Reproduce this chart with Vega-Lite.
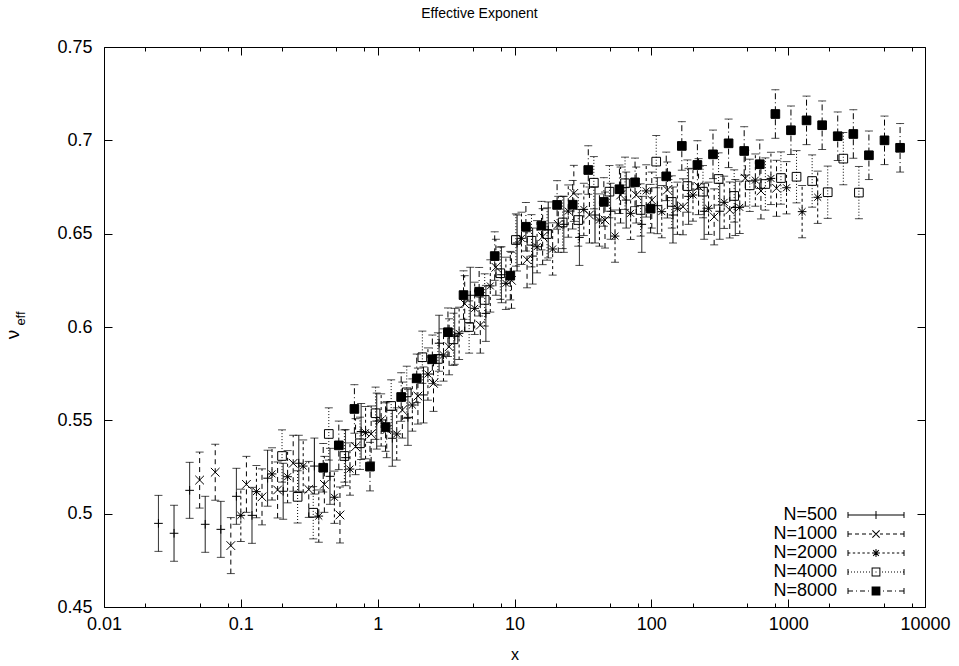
{
"$schema": "https://vega.github.io/schema/vega-lite/v6.json",
"width": 821, "height": 560,
"autosize": "none",
"padding": {"left": 104, "top": 47, "right": 34, "bottom": 59},
"background": "white",
"title": {"text": "Effective Exponent", "font": "Liberation Sans", "fontSize": 14, "fontWeight": "normal", "color": "black", "anchor": "middle", "frame": "group", "dx": -35, "offset": 3, "baseline": "bottom"},
"config": {
  "view": {"stroke": "black", "strokeWidth": 1},
  "font": "Liberation Sans",
  "axis": {"domain": false, "grid": false, "tickColor": "black", "tickWidth": 1, "labelColor": "black", "titleColor": "black", "labelFont": "Liberation Sans", "labelFontSize": 18, "titleFont": "Liberation Sans", "titleFontWeight": "normal"},
  "legend": {"labelFont": "Liberation Sans"}
},
"datasets": {"d": [
{"s":"N=500","x":0.025,"v":0.4948,"lo":0.4798,"hi":0.5098},
{"s":"N=500","x":0.0325,"v":0.4895,"lo":0.4745,"hi":0.5045},
{"s":"N=500","x":0.04225,"v":0.5125,"lo":0.4975,"hi":0.5275},
{"s":"N=500","x":0.054925,"v":0.4943,"lo":0.4793,"hi":0.5093},
{"s":"N=500","x":0.0714,"v":0.4916,"lo":0.4766,"hi":0.5066},
{"s":"N=500","x":0.09282,"v":0.5093,"lo":0.4943,"hi":0.5243},
{"s":"N=500","x":0.12067,"v":0.4991,"lo":0.4841,"hi":0.5141},
{"s":"N=500","x":0.15687,"v":0.519,"lo":0.504,"hi":0.534},
{"s":"N=500","x":0.20393,"v":0.512,"lo":0.497,"hi":0.527},
{"s":"N=500","x":0.26511,"v":0.527,"lo":0.512,"hi":0.542},
{"s":"N=500","x":0.34465,"v":0.5255,"lo":0.5105,"hi":0.5405},
{"s":"N=500","x":0.44804,"v":0.52,"lo":0.505,"hi":0.535},
{"s":"N=500","x":0.58245,"v":0.53,"lo":0.515,"hi":0.545},
{"s":"N=500","x":0.75719,"v":0.544,"lo":0.529,"hi":0.559},
{"s":"N=500","x":0.98434,"v":0.5496,"lo":0.5346,"hi":0.5646},
{"s":"N=500","x":1.27965,"v":0.5404,"lo":0.5254,"hi":0.5554},
{"s":"N=500","x":1.66354,"v":0.5516,"lo":0.5366,"hi":0.5666},
{"s":"N=500","x":2.1626,"v":0.5636,"lo":0.5486,"hi":0.5786},
{"s":"N=500","x":2.81139,"v":0.5913,"lo":0.5763,"hi":0.6063},
{"s":"N=500","x":3.6548,"v":0.595,"lo":0.58,"hi":0.61},
{"s":"N=500","x":4.75124,"v":0.617,"lo":0.602,"hi":0.632},
{"s":"N=500","x":6.17661,"v":0.6073,"lo":0.5923,"hi":0.6223},
{"s":"N=500","x":8.0296,"v":0.628,"lo":0.613,"hi":0.643},
{"s":"N=500","x":10.4385,"v":0.645,"lo":0.63,"hi":0.66},
{"s":"N=500","x":13.57,"v":0.638,"lo":0.623,"hi":0.653},
{"s":"N=500","x":17.641,"v":0.652,"lo":0.637,"hi":0.667},
{"s":"N=500","x":22.933,"v":0.655,"lo":0.64,"hi":0.67},
{"s":"N=500","x":29.813,"v":0.648,"lo":0.633,"hi":0.663},
{"s":"N=500","x":38.757,"v":0.66,"lo":0.645,"hi":0.675},
{"s":"N=500","x":50.385,"v":0.662,"lo":0.647,"hi":0.677},
{"s":"N=500","x":65.5,"v":0.668,"lo":0.653,"hi":0.683},
{"s":"N=500","x":85.15,"v":0.655,"lo":0.64,"hi":0.67},
{"s":"N=500","x":110.69,"v":0.665,"lo":0.65,"hi":0.68},
{"s":"N=500","x":143.9,"v":0.66,"lo":0.645,"hi":0.675},
{"s":"N=500","x":187.07,"v":0.67,"lo":0.655,"hi":0.685},
{"s":"N=500","x":243.2,"v":0.662,"lo":0.647,"hi":0.677},
{"s":"N=500","x":316.16,"v":0.662,"lo":0.647,"hi":0.677},
{"s":"N=500","x":411.0,"v":0.664,"lo":0.649,"hi":0.679},
{"s":"N=1000","x":0.05,"v":0.518,"lo":0.503,"hi":0.533},
{"s":"N=1000","x":0.065,"v":0.5222,"lo":0.5072,"hi":0.5372},
{"s":"N=1000","x":0.0845,"v":0.4829,"lo":0.4679,"hi":0.4979},
{"s":"N=1000","x":0.10985,"v":0.5157,"lo":0.5007,"hi":0.5307},
{"s":"N=1000","x":0.1428,"v":0.509,"lo":0.494,"hi":0.524},
{"s":"N=1000","x":0.18565,"v":0.5127,"lo":0.4977,"hi":0.5277},
{"s":"N=1000","x":0.24134,"v":0.527,"lo":0.512,"hi":0.542},
{"s":"N=1000","x":0.31374,"v":0.513,"lo":0.498,"hi":0.528},
{"s":"N=1000","x":0.40787,"v":0.5157,"lo":0.5007,"hi":0.5307},
{"s":"N=1000","x":0.53022,"v":0.4993,"lo":0.4843,"hi":0.5143},
{"s":"N=1000","x":0.68929,"v":0.5359,"lo":0.5209,"hi":0.5509},
{"s":"N=1000","x":0.89608,"v":0.5427,"lo":0.5277,"hi":0.5577},
{"s":"N=1000","x":1.1649,"v":0.545,"lo":0.53,"hi":0.56},
{"s":"N=1000","x":1.5144,"v":0.5555,"lo":0.5405,"hi":0.5705},
{"s":"N=1000","x":1.9687,"v":0.563,"lo":0.548,"hi":0.578},
{"s":"N=1000","x":2.5593,"v":0.5698,"lo":0.5548,"hi":0.5848},
{"s":"N=1000","x":3.3271,"v":0.5894,"lo":0.5744,"hi":0.6044},
{"s":"N=1000","x":4.3252,"v":0.6125,"lo":0.5975,"hi":0.6275},
{"s":"N=1000","x":5.6228,"v":0.601,"lo":0.586,"hi":0.616},
{"s":"N=1000","x":7.3096,"v":0.632,"lo":0.617,"hi":0.647},
{"s":"N=1000","x":9.5025,"v":0.625,"lo":0.61,"hi":0.64},
{"s":"N=1000","x":12.353,"v":0.636,"lo":0.621,"hi":0.651},
{"s":"N=1000","x":16.059,"v":0.6484,"lo":0.6334,"hi":0.6634},
{"s":"N=1000","x":20.877,"v":0.655,"lo":0.64,"hi":0.67},
{"s":"N=1000","x":27.14,"v":0.6716,"lo":0.6566,"hi":0.6866},
{"s":"N=1000","x":35.282,"v":0.66,"lo":0.645,"hi":0.675},
{"s":"N=1000","x":45.867,"v":0.6573,"lo":0.6423,"hi":0.6723},
{"s":"N=1000","x":59.627,"v":0.6707,"lo":0.6557,"hi":0.6857},
{"s":"N=1000","x":77.515,"v":0.6707,"lo":0.6557,"hi":0.6857},
{"s":"N=1000","x":100.77,"v":0.668,"lo":0.653,"hi":0.683},
{"s":"N=1000","x":131.0,"v":0.6734,"lo":0.6584,"hi":0.6884},
{"s":"N=1000","x":170.3,"v":0.6644,"lo":0.6494,"hi":0.6794},
{"s":"N=1000","x":221.39,"v":0.6752,"lo":0.6602,"hi":0.6902},
{"s":"N=1000","x":287.81,"v":0.659,"lo":0.644,"hi":0.674},
{"s":"N=1000","x":374.15,"v":0.6627,"lo":0.6477,"hi":0.6777},
{"s":"N=1000","x":486.39,"v":0.6797,"lo":0.6647,"hi":0.6947},
{"s":"N=1000","x":632.31,"v":0.6729,"lo":0.6579,"hi":0.6879},
{"s":"N=1000","x":822.0,"v":0.6743,"lo":0.6593,"hi":0.6893},
{"s":"N=2000","x":0.1,"v":0.4991,"lo":0.4851,"hi":0.5131},
{"s":"N=2000","x":0.13,"v":0.5118,"lo":0.4978,"hi":0.5258},
{"s":"N=2000","x":0.169,"v":0.5213,"lo":0.5073,"hi":0.5353},
{"s":"N=2000","x":0.2197,"v":0.5198,"lo":0.5058,"hi":0.5338},
{"s":"N=2000","x":0.28561,"v":0.5255,"lo":0.5115,"hi":0.5395},
{"s":"N=2000","x":0.37129,"v":0.4987,"lo":0.4847,"hi":0.5127},
{"s":"N=2000","x":0.48268,"v":0.5088,"lo":0.4948,"hi":0.5228},
{"s":"N=2000","x":0.62749,"v":0.5239,"lo":0.5099,"hi":0.5379},
{"s":"N=2000","x":0.81573,"v":0.5434,"lo":0.5294,"hi":0.5574},
{"s":"N=2000","x":1.0604,"v":0.5502,"lo":0.5362,"hi":0.5642},
{"s":"N=2000","x":1.3786,"v":0.5427,"lo":0.5287,"hi":0.5567},
{"s":"N=2000","x":1.7922,"v":0.5582,"lo":0.5442,"hi":0.5722},
{"s":"N=2000","x":2.3298,"v":0.5748,"lo":0.5608,"hi":0.5888},
{"s":"N=2000","x":3.0288,"v":0.585,"lo":0.571,"hi":0.599},
{"s":"N=2000","x":3.9374,"v":0.5966,"lo":0.5826,"hi":0.6106},
{"s":"N=2000","x":5.1186,"v":0.61,"lo":0.596,"hi":0.624},
{"s":"N=2000","x":6.6542,"v":0.622,"lo":0.608,"hi":0.636},
{"s":"N=2000","x":8.6504,"v":0.6234,"lo":0.6094,"hi":0.6374},
{"s":"N=2000","x":11.246,"v":0.6475,"lo":0.6335,"hi":0.6615},
{"s":"N=2000","x":14.619,"v":0.643,"lo":0.629,"hi":0.657},
{"s":"N=2000","x":19.005,"v":0.6418,"lo":0.6278,"hi":0.6558},
{"s":"N=2000","x":24.706,"v":0.6621,"lo":0.6481,"hi":0.6761},
{"s":"N=2000","x":32.118,"v":0.663,"lo":0.649,"hi":0.677},
{"s":"N=2000","x":41.754,"v":0.6573,"lo":0.6433,"hi":0.6713},
{"s":"N=2000","x":54.28,"v":0.6487,"lo":0.6347,"hi":0.6627},
{"s":"N=2000","x":70.564,"v":0.6609,"lo":0.6469,"hi":0.6749},
{"s":"N=2000","x":91.733,"v":0.6729,"lo":0.6589,"hi":0.6869},
{"s":"N=2000","x":119.25,"v":0.6618,"lo":0.6478,"hi":0.6758},
{"s":"N=2000","x":155.03,"v":0.6636,"lo":0.6496,"hi":0.6776},
{"s":"N=2000","x":201.54,"v":0.6707,"lo":0.6567,"hi":0.6847},
{"s":"N=2000","x":262.0,"v":0.6636,"lo":0.6496,"hi":0.6776},
{"s":"N=2000","x":340.6,"v":0.6668,"lo":0.6528,"hi":0.6808},
{"s":"N=2000","x":442.78,"v":0.6641,"lo":0.6501,"hi":0.6781},
{"s":"N=2000","x":575.61,"v":0.6787,"lo":0.6647,"hi":0.6927},
{"s":"N=2000","x":748.3,"v":0.6796,"lo":0.6656,"hi":0.6936},
{"s":"N=2000","x":972.79,"v":0.6746,"lo":0.6606,"hi":0.6886},
{"s":"N=2000","x":1264.6,"v":0.6618,"lo":0.6478,"hi":0.6758},
{"s":"N=2000","x":1644.0,"v":0.6695,"lo":0.6555,"hi":0.6835},
{"s":"N=4000","x":0.2,"v":0.5309,"lo":0.5169,"hi":0.5449},
{"s":"N=4000","x":0.26,"v":0.509,"lo":0.495,"hi":0.523},
{"s":"N=4000","x":0.338,"v":0.5005,"lo":0.4865,"hi":0.5145},
{"s":"N=4000","x":0.4394,"v":0.5427,"lo":0.5287,"hi":0.5567},
{"s":"N=4000","x":0.57122,"v":0.5309,"lo":0.5169,"hi":0.5449},
{"s":"N=4000","x":0.74259,"v":0.5377,"lo":0.5237,"hi":0.5517},
{"s":"N=4000","x":0.96536,"v":0.5538,"lo":0.5398,"hi":0.5678},
{"s":"N=4000","x":1.255,"v":0.5577,"lo":0.5437,"hi":0.5717},
{"s":"N=4000","x":1.6315,"v":0.565,"lo":0.551,"hi":0.579},
{"s":"N=4000","x":2.1209,"v":0.5838,"lo":0.5698,"hi":0.5978},
{"s":"N=4000","x":2.7572,"v":0.5829,"lo":0.5689,"hi":0.5969},
{"s":"N=4000","x":3.5843,"v":0.5934,"lo":0.5794,"hi":0.6074},
{"s":"N=4000","x":4.6596,"v":0.6,"lo":0.586,"hi":0.614},
{"s":"N=4000","x":6.0575,"v":0.6145,"lo":0.6005,"hi":0.6285},
{"s":"N=4000","x":7.8748,"v":0.6288,"lo":0.6148,"hi":0.6428},
{"s":"N=4000","x":10.237,"v":0.6466,"lo":0.6326,"hi":0.6606},
{"s":"N=4000","x":13.308,"v":0.6462,"lo":0.6322,"hi":0.6602},
{"s":"N=4000","x":17.301,"v":0.6498,"lo":0.6358,"hi":0.6638},
{"s":"N=4000","x":22.491,"v":0.656,"lo":0.642,"hi":0.67},
{"s":"N=4000","x":29.238,"v":0.6573,"lo":0.6433,"hi":0.6713},
{"s":"N=4000","x":38.01,"v":0.6773,"lo":0.6633,"hi":0.6913},
{"s":"N=4000","x":49.413,"v":0.6725,"lo":0.6585,"hi":0.6865},
{"s":"N=4000","x":64.237,"v":0.677,"lo":0.663,"hi":0.691},
{"s":"N=4000","x":83.508,"v":0.6627,"lo":0.6487,"hi":0.6767},
{"s":"N=4000","x":108.56,"v":0.6886,"lo":0.6746,"hi":0.7026},
{"s":"N=4000","x":141.13,"v":0.667,"lo":0.653,"hi":0.681},
{"s":"N=4000","x":183.47,"v":0.6755,"lo":0.6615,"hi":0.6895},
{"s":"N=4000","x":238.51,"v":0.6725,"lo":0.6585,"hi":0.6865},
{"s":"N=4000","x":310.06,"v":0.6793,"lo":0.6653,"hi":0.6933},
{"s":"N=4000","x":403.08,"v":0.6702,"lo":0.6562,"hi":0.6842},
{"s":"N=4000","x":524.0,"v":0.6759,"lo":0.6619,"hi":0.6899},
{"s":"N=4000","x":681.2,"v":0.6766,"lo":0.6626,"hi":0.6906},
{"s":"N=4000","x":885.56,"v":0.6798,"lo":0.6658,"hi":0.6938},
{"s":"N=4000","x":1151.2,"v":0.6805,"lo":0.6665,"hi":0.6945},
{"s":"N=4000","x":1496.6,"v":0.6782,"lo":0.6642,"hi":0.6922},
{"s":"N=4000","x":1945.6,"v":0.6722,"lo":0.6582,"hi":0.6862},
{"s":"N=4000","x":2529.2,"v":0.6902,"lo":0.6762,"hi":0.7042},
{"s":"N=4000","x":3288.0,"v":0.672,"lo":0.658,"hi":0.686},
{"s":"N=8000","x":0.4,"v":0.5246,"lo":0.5116,"hi":0.5376},
{"s":"N=8000","x":0.52,"v":0.5366,"lo":0.5236,"hi":0.5496},
{"s":"N=8000","x":0.676,"v":0.5561,"lo":0.5431,"hi":0.5691},
{"s":"N=8000","x":0.8788,"v":0.5252,"lo":0.5122,"hi":0.5382},
{"s":"N=8000","x":1.1424,"v":0.5464,"lo":0.5334,"hi":0.5594},
{"s":"N=8000","x":1.4852,"v":0.5625,"lo":0.5495,"hi":0.5755},
{"s":"N=8000","x":1.9307,"v":0.5725,"lo":0.5595,"hi":0.5855},
{"s":"N=8000","x":2.5099,"v":0.5827,"lo":0.5697,"hi":0.5957},
{"s":"N=8000","x":3.2629,"v":0.5972,"lo":0.5842,"hi":0.6102},
{"s":"N=8000","x":4.2418,"v":0.6171,"lo":0.6041,"hi":0.6301},
{"s":"N=8000","x":5.5143,"v":0.6189,"lo":0.6059,"hi":0.6319},
{"s":"N=8000","x":7.1686,"v":0.638,"lo":0.625,"hi":0.651},
{"s":"N=8000","x":9.3192,"v":0.6275,"lo":0.6145,"hi":0.6405},
{"s":"N=8000","x":12.115,"v":0.6537,"lo":0.6407,"hi":0.6667},
{"s":"N=8000","x":15.75,"v":0.6543,"lo":0.6413,"hi":0.6673},
{"s":"N=8000","x":20.474,"v":0.6654,"lo":0.6524,"hi":0.6784},
{"s":"N=8000","x":26.617,"v":0.6655,"lo":0.6525,"hi":0.6785},
{"s":"N=8000","x":34.602,"v":0.6841,"lo":0.6711,"hi":0.6971},
{"s":"N=8000","x":44.982,"v":0.667,"lo":0.654,"hi":0.68},
{"s":"N=8000","x":58.477,"v":0.6738,"lo":0.6608,"hi":0.6868},
{"s":"N=8000","x":76.02,"v":0.6775,"lo":0.6645,"hi":0.6905},
{"s":"N=8000","x":98.826,"v":0.6634,"lo":0.6504,"hi":0.6764},
{"s":"N=8000","x":128.47,"v":0.6807,"lo":0.6677,"hi":0.6937},
{"s":"N=8000","x":167.02,"v":0.697,"lo":0.684,"hi":0.71},
{"s":"N=8000","x":217.12,"v":0.6868,"lo":0.6738,"hi":0.6998},
{"s":"N=8000","x":282.26,"v":0.6925,"lo":0.6795,"hi":0.7055},
{"s":"N=8000","x":366.93,"v":0.6984,"lo":0.6854,"hi":0.7114},
{"s":"N=8000","x":477.01,"v":0.6943,"lo":0.6813,"hi":0.7073},
{"s":"N=8000","x":620.12,"v":0.6872,"lo":0.6742,"hi":0.7002},
{"s":"N=8000","x":806.15,"v":0.7141,"lo":0.7011,"hi":0.7271},
{"s":"N=8000","x":1048.0,"v":0.7054,"lo":0.6924,"hi":0.7184},
{"s":"N=8000","x":1362.4,"v":0.7107,"lo":0.6977,"hi":0.7237},
{"s":"N=8000","x":1771.1,"v":0.7081,"lo":0.6951,"hi":0.7211},
{"s":"N=8000","x":2302.5,"v":0.7022,"lo":0.6892,"hi":0.7152},
{"s":"N=8000","x":2993.2,"v":0.7034,"lo":0.6904,"hi":0.7164},
{"s":"N=8000","x":3891.1,"v":0.692,"lo":0.679,"hi":0.705},
{"s":"N=8000","x":5058.5,"v":0.7,"lo":0.687,"hi":0.713},
{"s":"N=8000","x":6576.0,"v":0.696,"lo":0.683,"hi":0.709}
]},
"data": {"name": "d"},
"resolve": {"scale": {"shape": "independent", "fill": "independent", "strokeDash": "independent"}, "axis": {"x": "independent", "y": "independent"}},
"layer": [
{
 "mark": {"type": "rule", "strokeWidth": 1, "color": "black"},
 "encoding": {
  "x": {"field": "x", "type": "quantitative", "scale": {"type": "log", "domain": [0.01, 10000], "nice": false},
        "axis": {"orient": "bottom", "values": [0.01, 0.1, 1, 10, 100, 1000, 10000], "format": "~g", "ticks": false, "labelPadding": 8, "labelFlush": false, "labelOverlap": false, "title": "x", "titleFontSize": 16, "titleY": 52, "titleBaseline": "alphabetic"}},
  "y": {"field": "lo", "type": "quantitative", "scale": {"domain": [0.45, 0.75], "nice": false, "zero": false},
        "axis": {"orient": "left", "values": [0.45, 0.5, 0.55, 0.6, 0.65, 0.7, 0.75], "format": "~g", "ticks": false, "labelPadding": 12, "labelFlush": false, "labelOverlap": false, "title": "ν", "titleFontSize": 19, "titleAngle": -90, "titleX": -86, "titleY": 287, "titleAlign": "center", "titleBaseline": "alphabetic",
                 "encode": {"title": {"update": {"angle": {"value": -90}}}}}},
  "y2": {"field": "hi"},
  "strokeDash": {"field": "s", "type": "nominal", "scale": {"domain": ["N=500", "N=1000", "N=2000", "N=4000", "N=8000"], "range": [[1, 0], [5, 4], [3, 3], [1, 2], [6, 3, 1, 3]]}, "legend": null}
 }
},
{
 "mark": {"type": "tick", "orient": "horizontal", "size": 8, "thickness": 1, "color": "black"},
 "encoding": {
  "x": {"field": "x", "type": "quantitative", "scale": {"type": "log", "domain": [0.01, 10000], "nice": false},
        "axis": {"orient": "bottom", "values": [0.01, 0.1, 1, 10, 100, 1000, 10000], "labels": false, "tickSize": -8, "title": null}},
  "y": {"field": "lo", "type": "quantitative", "scale": {"domain": [0.45, 0.75], "nice": false, "zero": false},
        "axis": {"orient": "right", "values": [0.45, 0.5, 0.55, 0.6, 0.65, 0.7, 0.75], "labels": false, "tickSize": -8, "title": null}}
 }
},
{
 "mark": {"type": "tick", "orient": "horizontal", "size": 8, "thickness": 1, "color": "black"},
 "encoding": {
  "x": {"field": "x", "type": "quantitative", "scale": {"type": "log", "domain": [0.01, 10000], "nice": false},
        "axis": {"orient": "top", "values": [0.01, 0.1, 1, 10, 100, 1000, 10000], "labels": false, "tickSize": -8, "title": null}},
  "y": {"field": "hi", "type": "quantitative", "scale": {"domain": [0.45, 0.75], "nice": false, "zero": false},
        "axis": {"orient": "left", "values": [0.45, 0.5, 0.55, 0.6, 0.65, 0.7, 0.75], "labels": false, "tickSize": -8, "title": "eff", "titleFontSize": 13, "titleAngle": -90, "titleX": -80, "titleY": 271, "titleAlign": "center", "titleBaseline": "alphabetic",
                 "encode": {"title": {"update": {"angle": {"value": -90}}}}}}
 }
},
{
 "mark": {"type": "point", "stroke": "black", "strokeWidth": 1, "opacity": 1, "size": 75},
 "encoding": {
  "x": {"field": "x", "type": "quantitative", "scale": {"type": "log", "domain": [0.01, 10000], "nice": false},
        "axis": {"orient": "top", "values": [0.02, 0.05, 0.08, 0.2, 0.5, 0.8, 2, 5, 8, 20, 50, 80, 200, 500, 800, 2000, 5000, 8000], "labels": false, "tickSize": -4, "title": null}},
  "y": {"field": "v", "type": "quantitative", "scale": {"domain": [0.45, 0.75], "nice": false, "zero": false}, "axis": null},
  "shape": {"field": "s", "type": "nominal", "scale": {"domain": ["N=500", "N=1000", "N=2000", "N=4000", "N=8000"], "range": ["M-1,0L1,0M0,-1L0,1", "M-1,-1L1,1M-1,1L1,-1", "M-1,0L1,0M0,-1L0,1M-0.8,-0.8L0.8,0.8M-0.8,0.8L0.8,-0.8", "square", "square"]}, "legend": null},
  "fill": {"field": "s", "type": "nominal", "scale": {"domain": ["N=500", "N=1000", "N=2000", "N=4000", "N=8000"], "range": ["transparent", "transparent", "transparent", "transparent", "black"]}, "legend": null}
 }
},
{
 "transform": [{"filter": "datum.x < 0"}],
 "mark": {"type": "point", "opacity": 1},
 "encoding": {
  "x": {"field": "x", "type": "quantitative", "scale": {"type": "log", "domain": [0.01, 10000], "nice": false},
        "axis": {"orient": "bottom", "values": [0.02, 0.05, 0.08, 0.2, 0.5, 0.8, 2, 5, 8, 20, 50, 80, 200, 500, 800, 2000, 5000, 8000], "labels": false, "tickSize": -4, "title": null}},
  "y": {"field": "v", "type": "quantitative", "scale": {"domain": [0.45, 0.75], "nice": false, "zero": false}, "axis": null},
  "shape": {"field": "s", "type": "nominal", "scale": {"domain": ["N=500", "N=1000", "N=2000", "N=4000", "N=8000"], "range": [
     "M-7,-0.125L7,-0.125L7,0.125L-7,0.125Z M-7.125,-0.75L-6.875,-0.75L-6.875,0.75L-7.125,0.75Z M6.875,-0.75L7.125,-0.75L7.125,0.75L6.875,0.75Z M-0.125,-1L0.125,-1L0.125,1L-0.125,1Z",
     "M-7,-0.125L-6,-0.125L-6,0.125L-7,0.125Z M-5.25,-0.125L-4.25,-0.125L-4.25,0.125L-5.25,0.125Z M-3.5,-0.125L-2.5,-0.125L-2.5,0.125L-3.5,0.125Z M-1.75,-0.125L-1,-0.125L-1,0.125L-1.75,0.125Z M1,-0.125L1.75,-0.125L1.75,0.125L1,0.125Z M2.5,-0.125L3.5,-0.125L3.5,0.125L2.5,0.125Z M4.25,-0.125L5.25,-0.125L5.25,0.125L4.25,0.125Z M6,-0.125L7,-0.125L7,0.125L6,0.125Z M-7.125,-0.75L-6.875,-0.75L-6.875,0.75L-7.125,0.75Z M6.875,-0.75L7.125,-0.75L7.125,0.75L6.875,0.75Z M-1,-0.82L-0.82,-1L1,0.82L0.82,1Z M-1,0.82L0.82,-1L1,-0.82L-0.82,1Z",
     "M-7,-0.125L-6.4,-0.125L-6.4,0.125L-7,0.125Z M-5.8,-0.125L-5.2,-0.125L-5.2,0.125L-5.8,0.125Z M-4.6,-0.125L-4,-0.125L-4,0.125L-4.6,0.125Z M-3.4,-0.125L-2.8,-0.125L-2.8,0.125L-3.4,0.125Z M-2.2,-0.125L-1.6,-0.125L-1.6,0.125L-2.2,0.125Z M1.6,-0.125L2.2,-0.125L2.2,0.125L1.6,0.125Z M2.8,-0.125L3.4,-0.125L3.4,0.125L2.8,0.125Z M4,-0.125L4.6,-0.125L4.6,0.125L4,0.125Z M5.2,-0.125L5.8,-0.125L5.8,0.125L5.2,0.125Z M6.4,-0.125L7,-0.125L7,0.125L6.4,0.125Z M-7.125,-0.75L-6.875,-0.75L-6.875,0.75L-7.125,0.75Z M6.875,-0.75L7.125,-0.75L7.125,0.75L6.875,0.75Z M-0.125,-1L0.125,-1L0.125,1L-0.125,1Z M-1,-0.125L1,-0.125L1,0.125L-1,0.125Z M-0.8,-0.62L-0.62,-0.8L0.8,0.62L0.62,0.8Z M-0.8,0.62L0.62,-0.8L0.8,-0.62L-0.62,0.8Z",
     "M-7,-0.125L-6.75,-0.125L-6.75,0.125L-7,0.125Z M-6.25,-0.125L-6,-0.125L-6,0.125L-6.25,0.125Z M-5.5,-0.125L-5.25,-0.125L-5.25,0.125L-5.5,0.125Z M-4.75,-0.125L-4.5,-0.125L-4.5,0.125L-4.75,0.125Z M-4,-0.125L-3.75,-0.125L-3.75,0.125L-4,0.125Z M-3.25,-0.125L-3,-0.125L-3,0.125L-3.25,0.125Z M-2.5,-0.125L-2.25,-0.125L-2.25,0.125L-2.5,0.125Z M-1.75,-0.125L-1.5,-0.125L-1.5,0.125L-1.75,0.125Z M1.5,-0.125L1.75,-0.125L1.75,0.125L1.5,0.125Z M2.25,-0.125L2.5,-0.125L2.5,0.125L2.25,0.125Z M3,-0.125L3.25,-0.125L3.25,0.125L3,0.125Z M3.75,-0.125L4,-0.125L4,0.125L3.75,0.125Z M4.5,-0.125L4.75,-0.125L4.75,0.125L4.5,0.125Z M5.25,-0.125L5.5,-0.125L5.5,0.125L5.25,0.125Z M6,-0.125L6.25,-0.125L6.25,0.125L6,0.125Z M6.75,-0.125L7,-0.125L7,0.125L6.75,0.125Z M-7.125,-0.75L-6.875,-0.75L-6.875,0.75L-7.125,0.75Z M6.875,-0.75L7.125,-0.75L7.125,0.75L6.875,0.75Z M-1.1,-1.1L1.1,-1.1L1.1,1.1L-1.1,1.1Z M-0.85,-0.85L-0.85,0.85L0.85,0.85L0.85,-0.85Z M-0.125,-0.125L0.125,-0.125L0.125,0.125L-0.125,0.125Z",
     "M-7,-0.125L-5.75,-0.125L-5.75,0.125L-7,0.125Z M-5,-0.125L-4.75,-0.125L-4.75,0.125L-5,0.125Z M-4,-0.125L-2.75,-0.125L-2.75,0.125L-4,0.125Z M-2,-0.125L-1.75,-0.125L-1.75,0.125L-2,0.125Z M1.75,-0.125L2,-0.125L2,0.125L1.75,0.125Z M2.75,-0.125L4,-0.125L4,0.125L2.75,0.125Z M4.75,-0.125L5,-0.125L5,0.125L4.75,0.125Z M5.75,-0.125L7,-0.125L7,0.125L5.75,0.125Z M-7.125,-0.75L-6.875,-0.75L-6.875,0.75L-7.125,0.75Z M6.875,-0.75L7.125,-0.75L7.125,0.75L6.875,0.75Z M-1.1,-1.1L1.1,-1.1L1.1,1.1L-1.1,1.1Z"]},
     "legend": {"title": null, "orient": "none", "legendX": 763, "legendY": 459, "padding": 0, "labelAlign": "right", "labelOffset": -48, "labelFontSize": 18, "labelColor": "black", "symbolSize": 64, "symbolStrokeColor": "transparent", "symbolStrokeWidth": 0, "symbolOpacity": 1, "rowPadding": 1,
       "encode": {"symbols": {"update": {"opacity": {"value": 1}, "fillOpacity": {"value": 1}}}}}},
  "fill": {"field": "s", "type": "nominal", "scale": {"domain": ["N=500", "N=1000", "N=2000", "N=4000", "N=8000"], "range": ["black", "black", "black", "black", "black"]}}
 }
}
]
}
